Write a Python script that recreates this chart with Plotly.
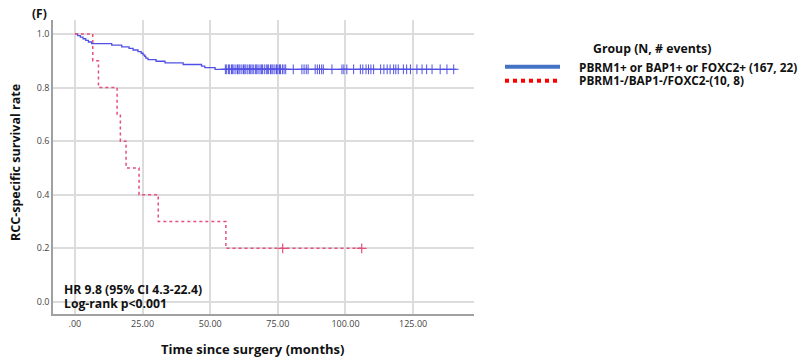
import plotly.graph_objects as go

# ---------------- data ----------------
blue_time = [0, 1, 2, 3, 4, 5, 6.2, 13.6, 17.3, 20, 21.5, 23.3, 24.5, 25.2, 25.8, 26.2,
             27, 30, 33.3, 40, 46.8, 48, 51.8, 141]
blue_surv = [1.0, 0.994, 0.988, 0.982, 0.976, 0.970, 0.964, 0.958, 0.952, 0.946, 0.940,
             0.934, 0.928, 0.922, 0.916, 0.910, 0.904, 0.898, 0.892, 0.886, 0.880, 0.874,
             0.868, 0.868]
blue_censor = [55.6, 56.1, 56.8, 57.2, 57.9, 58.3, 58.8, 59.5, 60.1, 60.6, 61.0, 61.7, 62.3,
               62.8, 63.2, 63.9, 64.5, 65.0, 65.5, 66.1, 66.8, 67.2, 67.7, 68.4, 68.9, 69.3,
               70.0, 70.7, 71.1, 71.6, 72.3, 72.8, 73.2, 73.9, 74.5, 75.0, 75.6, 76.0, 76.7,
               77.3, 77.9, 80.7, 83.9, 84.7, 85.5, 86.2, 88.8, 89.6, 90.4, 91.2, 91.8, 95.0,
               98.7, 99.4, 100.5, 103.0, 105.5, 106.4, 107.6, 108.5, 109.4, 110.4, 113.0,
               114.2, 115.4, 116.5, 117.8, 118.6, 119.5, 121.4, 122.6, 124.0, 126.4, 128.3,
               130.0, 132.0, 135.0, 137.5, 140.0]

red_time = [0, 6.6, 8.7, 15.6, 16.8, 18.9, 23.7, 30.8, 55.8, 106]
red_surv = [1.0, 0.9, 0.8, 0.7, 0.6, 0.5, 0.4, 0.3, 0.2, 0.2]
red_censor = [76.8, 106]

x_ticks = [0, 25, 50, 75, 100, 125]
x_ticktext = [".00", "25.00", "50.00", "75.00", "100.00", "125.00"]
y_ticks = [0.0, 0.2, 0.4, 0.6, 0.8, 1.0]

legend_title = "Group (N, # events)"
group_names = ["PBRM1+ or BAP1+ or FOXC2+ (167, 22)", "PBRM1-/BAP1-/FOXC2-(10, 8)"]


def surv_at(times, survs, t):
    val = survs[0]
    for ti, si in zip(times, survs):
        if ti <= t:
            val = si
    return val


BLUE = "#5050e6"
RED = "#e4507c"
FONT = "Open Sans"

fig = go.Figure()
fig.add_trace(go.Scatter(x=blue_time, y=blue_surv, mode="lines", line_shape="hv",
                         line=dict(color=BLUE, width=1.3), showlegend=False,
                         hoverinfo="skip"))
fig.add_trace(go.Scatter(x=blue_censor, y=[surv_at(blue_time, blue_surv, t) for t in blue_censor],
                         mode="markers", showlegend=False,
                         marker=dict(symbol="cross-thin-open", size=7, color=BLUE,
                                     line=dict(color=BLUE, width=1))))
fig.add_trace(go.Scatter(x=red_time, y=red_surv, mode="lines", line_shape="hv",
                         line=dict(color=RED, width=1.5, dash="dot"), showlegend=False))
fig.add_trace(go.Scatter(x=red_censor, y=[surv_at(red_time, red_surv, t) for t in red_censor],
                         mode="markers", showlegend=False,
                         marker=dict(symbol="cross-thin-open", size=7, color=RED,
                                     line=dict(color=RED, width=1.2))))

W, H = 806, 359
L, R, T, B = 53, 474, 20, 314


def px(x):
    return (x - L) / (R - L)


def py(y):
    return (B - y) / (B - T)


def ann(text, x, y, size, xanchor="center", angle=0, bold=False):
    return dict(text=("<b>" + text + "</b>") if bold else text,
                x=px(x), y=py(y), xref="paper", yref="paper",
                xanchor=xanchor, yanchor="middle", showarrow=False, textangle=angle,
                font=dict(family=FONT, size=size, color="#111"))


annotations = [
    ann("(F)", 39, 14, 12, bold=True),
    ann("Time since surgery (months)", 252, 349, 13, bold=True),
    ann("RCC-specific survival rate", 15, 163, 12.5, angle=-90, bold=True),
    ann("HR 9.8 (95% CI 4.3-22.4)", 62, 289, 12.2, xanchor="left", bold=True),
    ann("Log-rank p<0.001", 62, 303, 12.2, xanchor="left", bold=True),
    ann(legend_title, 652, 48, 12.3, bold=True),
    ann(group_names[0], 577, 66.5, 11.8, xanchor="left", bold=True),
    ann(group_names[1], 577, 80.5, 11.8, xanchor="left", bold=True),
]

shapes = [
    dict(type="line", xref="paper", yref="paper", x0=px(505), x1=px(560),
         y0=py(66.7), y1=py(66.7), line=dict(color="#4472c4", width=4)),
    dict(type="line", xref="paper", yref="paper", x0=px(505), x1=px(560),
         y0=py(80.7), y1=py(80.7), line=dict(color="#ff0000", width=4, dash="dot")),
]

fig.update_layout(
    width=W, height=H,
    margin=dict(l=L, r=W - R, t=T, b=H - B),
    paper_bgcolor="white", plot_bgcolor="white",
    showlegend=False,
    annotations=annotations, shapes=shapes,
    xaxis=dict(range=[-8.1, 147.5], tickvals=x_ticks, ticktext=x_ticktext,
               showgrid=True, gridcolor="#dcdcdc", gridwidth=1.5, zeroline=False,
               showline=True, linecolor="#a0a0a0", linewidth=1.5, ticks="",
               tickfont=dict(family=FONT, size=9, color="#444"), fixedrange=True),
    yaxis=dict(range=[-0.045, 1.052], tickvals=y_ticks, tickformat=".1f",
               showgrid=True, gridcolor="#dcdcdc", gridwidth=1.5, zeroline=False,
               showline=True, linecolor="#a0a0a0", linewidth=1.5, ticks="",
               tickfont=dict(family=FONT, size=9, color="#444"), fixedrange=True),
)

fig.write_html("out.html")
